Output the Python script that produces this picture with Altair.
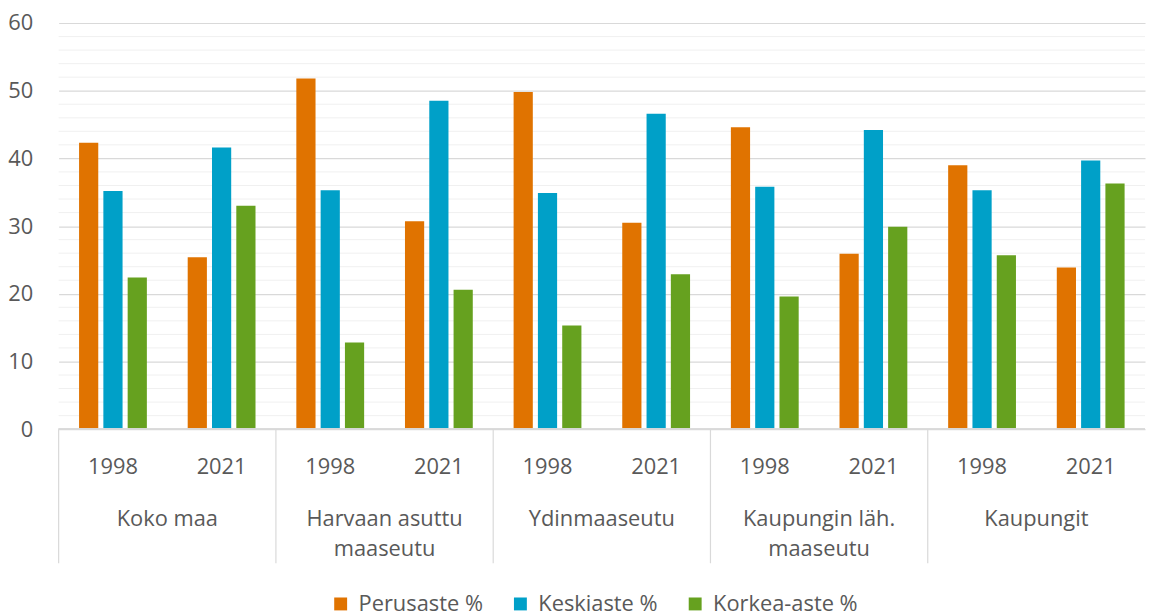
import altair as alt
import pandas as pd

# ---- data ----
regions = ["Koko maa", "Harvaan asuttu maaseutu", "Ydinmaaseutu",
           "Kaupungin läh. maaseutu", "Kaupungit"]
region_labels = ["Koko maa", "Harvaan asuttu\nmaaseutu", "Ydinmaaseutu",
                 "Kaupungin läh.\nmaaseutu", "Kaupungit"]
years = ["1998", "2021"]
series = ["Perusaste %", "Keskiaste %", "Korkea-aste %"]
colors = ["#E07300", "#00A0C8", "#66A11F"]

# values in order: region x year
perusaste = [42.3, 25.4, 51.8, 30.7, 49.8, 30.5, 44.6, 25.9, 39.0, 23.9]
keskiaste = [35.2, 41.6, 35.3, 48.5, 34.9, 46.6, 35.8, 44.2, 35.3, 39.7]
korkea = [22.4, 33.0, 12.8, 20.6, 15.3, 22.9, 19.6, 29.9, 25.7, 36.3]

y_ticks = [0, 10, 20, 30, 40, 50, 60]
minor_ticks = [v for v in range(2, 60, 2) if v % 10 != 0]

# ---- build table ----
rows = []
keys = []
i = 0
for r, rl in zip(regions, region_labels):
    for y in years:
        key = f"{r}|{y}"
        keys.append(key)
        for s, vals in zip(series, [perusaste, keskiaste, korkea]):
            rows.append({"key": key, "region": r, "region_label": rl,
                         "year": y, "series": s, "value": vals[i]})
        i += 1
df = pd.DataFrame(rows)
minor_df = pd.DataFrame({"v": minor_ticks})

W, H = 1094, 409
FONT = "Open Sans"
TXT = "#595959"

xscale = alt.Scale(domain=keys, paddingInner=0, paddingOuter=0)
yscale = alt.Scale(domain=[0, 60], nice=False, zero=True)
yaxis = alt.Axis(values=y_ticks, title=None, grid=True, gridColor="#d9d9d9",
                 gridWidth=1.2, domain=False, ticks=False, tickSize=0,
                 labelPadding=26, labelFontSize=22, labelColor=TXT,
                 labelFont=FONT)

base = alt.Chart(df)

minor = alt.Chart(minor_df).mark_rule(color="#f0f0f0", strokeWidth=1).encode(
    y=alt.Y("v:Q", scale=yscale, axis=yaxis)
)

bars = base.mark_bar().encode(
    x=alt.X("key:N", scale=xscale, axis=None, sort=keys),
    xOffset=alt.XOffset("series:N", sort=series,
                        scale=alt.Scale(domain=series, paddingInner=0.21, paddingOuter=0.84)),
    y=alt.Y("value:Q", scale=yscale, axis=yaxis),
    color=alt.Color("series:N", sort=series,
                    scale=alt.Scale(domain=series, range=colors),
                    legend=alt.Legend(orient="none", legendX=273, legendY=574,
                                      direction="horizontal", title=None,
                                      symbolType="square", symbolSize=169,
                                      symbolStrokeWidth=0, labelFontSize=22,
                                      labelColor=TXT, labelFont=FONT,
                                      labelOffset=7, columnPadding=26)),
)

baseline = alt.Chart(df).transform_filter(
    (alt.datum.series == series[0]) & (alt.datum.year == years[0])
).mark_rule(color="#d9d9d9", strokeWidth=1.2).encode(
    x=alt.value(0), x2=alt.value(W), y=alt.value(H)
)

year_text = base.transform_filter(alt.datum.series == series[0]).mark_text(
    font=FONT, fontSize=22, color=TXT, baseline="alphabetic", align="center"
).encode(
    x=alt.X("key:N", scale=xscale, axis=None),
    y=alt.value(H + 45),
    text="year:N",
)

first = base.transform_filter(
    (alt.datum.series == series[0]) & (alt.datum.year == years[0])
)

region_text = first.mark_text(
    font=FONT, fontSize=22, color=TXT, baseline="alphabetic", align="center",
    lineBreak="\n", lineHeight=31
).encode(
    x=alt.X("key:N", scale=xscale, axis=None, bandPosition=1),
    y=alt.value(H + 97),
    text="region_label:N",
)

dividers = first.mark_rule(color="#d9d9d9", strokeWidth=1.2).encode(
    x=alt.X("key:N", scale=xscale, axis=None, bandPosition=0),
    y=alt.value(H),
    y2=alt.value(H + 135),
)

chart = alt.layer(minor, bars, baseline, year_text, region_text, dividers).properties(
    width=W, height=H,
    padding={"left": 51, "top": 13, "right": 2, "bottom": 186},
    autosize=alt.AutoSizeParams(type="none"),
).configure(font=FONT).configure_view(stroke=None)

chart.save("out.html", embed_options={"renderer": "svg", "actions": False})
